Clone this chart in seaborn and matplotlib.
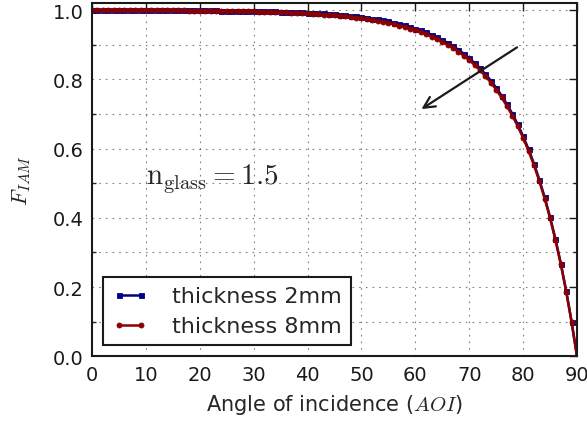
import matplotlib
matplotlib.use("Agg")
import matplotlib.pyplot as plt
from matplotlib.ticker import MultipleLocator
import numpy as np
import pandas as pd
import seaborn as sns

# Angle of incidence in degrees, one sample per degree
aoi = list(range(0, 91))

# Incidence angle modifier for a 2 mm glass cover
iam_2mm = [
    1.0000, 1.0000, 1.0000, 1.0000, 1.0000, 1.0000, 0.9999, 0.9999, 0.9999, 0.9999,
    0.9999, 0.9999, 0.9999, 0.9999, 0.9998, 0.9998, 0.9997, 0.9997, 0.9996, 0.9996,
    0.9995, 0.9994, 0.9993, 0.9992, 0.9991, 0.9989, 0.9988, 0.9986, 0.9984, 0.9982,
    0.9979, 0.9976, 0.9973, 0.9970, 0.9966, 0.9962, 0.9957, 0.9951, 0.9945, 0.9939,
    0.9932, 0.9924, 0.9916, 0.9906, 0.9895, 0.9883, 0.9869, 0.9854, 0.9838, 0.9821,
    0.9803, 0.9783, 0.9759, 0.9733, 0.9705, 0.9675, 0.9641, 0.9605, 0.9564, 0.9520,
    0.9471, 0.9417, 0.9358, 0.9293, 0.9221, 0.9143, 0.9056, 0.8961, 0.8857, 0.8742,
    0.8616, 0.8476, 0.8323, 0.8154, 0.7967, 0.7762, 0.7535, 0.7284, 0.7007, 0.6701,
    0.6361, 0.5986, 0.5570, 0.5108, 0.4594, 0.4023, 0.3387, 0.2677, 0.1883, 0.0995,
    0.0000,
]

# Incidence angle modifier for an 8 mm glass cover
iam_8mm = [
    1.0000, 1.0000, 0.9999, 0.9999, 0.9999, 0.9999, 0.9999, 0.9999, 0.9998, 0.9998,
    0.9998, 0.9997, 0.9996, 0.9996, 0.9995, 0.9994, 0.9993, 0.9992, 0.9991, 0.9990,
    0.9989, 0.9987, 0.9985, 0.9984, 0.9982, 0.9979, 0.9977, 0.9974, 0.9971, 0.9968,
    0.9965, 0.9961, 0.9957, 0.9952, 0.9947, 0.9942, 0.9936, 0.9930, 0.9923, 0.9915,
    0.9906, 0.9897, 0.9887, 0.9876, 0.9864, 0.9851, 0.9836, 0.9820, 0.9803, 0.9784,
    0.9765, 0.9742, 0.9718, 0.9692, 0.9662, 0.9630, 0.9596, 0.9557, 0.9517, 0.9470,
    0.9420, 0.9365, 0.9305, 0.9239, 0.9166, 0.9087, 0.9000, 0.8904, 0.8799, 0.8684,
    0.8557, 0.8418, 0.8264, 0.8095, 0.7910, 0.7705, 0.7479, 0.7229, 0.6953, 0.6649,
    0.6312, 0.5939, 0.5526, 0.5068, 0.4558, 0.3990, 0.3360, 0.2656, 0.1868, 0.0988,
    0.0000,
]

series_labels = ["thickness 2mm", "thickness 8mm"]
x_ticks = [0, 10, 20, 30, 40, 50, 60, 70, 80, 90]
y_ticks = [0.0, 0.2, 0.4, 0.6, 0.8, 1.0]

sns.set_theme(style="white")
plt.rcParams["font.family"] = ["DejaVu Sans"]
plt.rcParams["mathtext.fontset"] = "cm"

df = pd.DataFrame({
    "aoi": aoi * 2,
    "iam": iam_2mm + iam_8mm,
    "series": [series_labels[0]] * len(aoi) + [series_labels[1]] * len(aoi),
})

fig = plt.figure(figsize=(5.87, 4.27), dpi=100)
ax = fig.add_axes([92 / 587, (427 - 357.3) / 427, 485 / 587, 353 / 427])

styles = {
    series_labels[0]: dict(color="#00008b", marker="s"),
    series_labels[1]: dict(color="#8b0000", marker="o"),
}
for name in series_labels:
    st = styles[name]
    sns.lineplot(
        data=df[df["series"] == name], x="aoi", y="iam",
        color=st["color"], marker=st["marker"], markersize=3.6,
        markeredgecolor=st["color"], markeredgewidth=0.6,
        linewidth=1.8, label=name, ax=ax,
    )

ax.set_xlim(0, 90)
ax.set_ylim(0, 1.02)
ax.set_xticks(x_ticks)
ax.set_yticks(y_ticks)
ax.yaxis.set_minor_locator(MultipleLocator(0.1))
ax.set_xticklabels([str(v) for v in x_ticks])
ax.set_yticklabels([f"{v:.1f}" for v in y_ticks])

ax.set_axisbelow(True)
grid_kw = dict(linestyle=(0, (1.5, 4.5)), color="k", linewidth=0.8, alpha=0.55)
ax.grid(True, axis="x", which="major", **grid_kw)
ax.grid(True, axis="y", which="both", **grid_kw)

ax.tick_params(axis="both", which="major", direction="in", top=True, right=True,
               length=6, width=1, labelsize=14, pad=6, colors="k")
ax.tick_params(axis="y", which="minor", direction="in", left=True, right=True,
               length=3, width=1)
for sp in ax.spines.values():
    sp.set_linewidth(1.5)
    sp.set_color("k")

ax.set_xlabel("Angle of incidence ($AOI$)", fontsize=15, labelpad=6)
ax.set_ylabel("$F_{IAM}$", fontsize=16, labelpad=14)

ax.annotate("", xy=(60.7, 0.71), xytext=(79.3, 0.897),
            arrowprops=dict(arrowstyle="->", color="k", lw=1.6, mutation_scale=20))
ax.text(10, 0.5, r"$\mathrm{n_{glass}} = 1.5$", fontsize=21)

leg = ax.legend(loc="lower left", numpoints=2, fancybox=False, edgecolor="k",
                framealpha=1, fontsize=16, handlelength=1.6, handletextpad=1.1,
                borderpad=0.4, labelspacing=0.45)
leg.get_frame().set_linewidth(1.5)

fig.savefig("out.png", dpi=100)
